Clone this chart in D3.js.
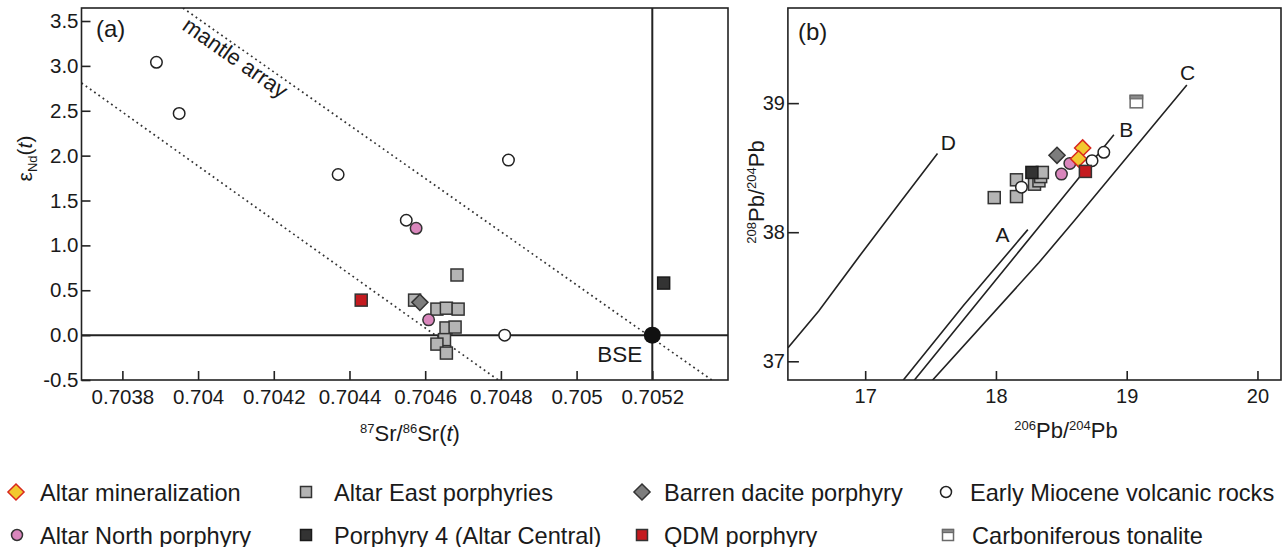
<!DOCTYPE html>
<html>
<head>
<meta charset="utf-8">
<script src="https://cdn.jsdelivr.net/npm/d3@7/dist/d3.min.js"></script>
<style>
  html, body { margin: 0; padding: 0; background: #fff; }
  svg { display: block; }
</style>
</head>
<body>
<svg id="chart" width="1287" height="547"></svg>
<script>
// ---------- Panel (a): 87Sr/86Sr(t) vs εNd(t) ----------
const srTicks = [0.7038, 0.7040, 0.7042, 0.7044, 0.7046, 0.7048, 0.7050, 0.7052];
const srTickLabels = ["0.7038", "0.704", "0.7042", "0.7044", "0.7046", "0.7048", "0.705", "0.7052"];
const ndTicks = [-0.5, 0, 0.5, 1, 1.5, 2, 2.5, 3, 3.5];
const ndTickLabels = ["-0.5", "0.0", "0.5", "1.0", "1.5", "2.0", "2.5", "3.0", "3.5"];

const srAltarEast = [0.704684, 0.704572, 0.704631, 0.704656, 0.704687, 0.704655, 0.704679, 0.704651, 0.704631, 0.704656];
const ndAltarEast = [0.67, 0.39, 0.29, 0.30, 0.29, 0.08, 0.09, -0.05, -0.10, -0.20];
const srBarren = [0.704586];
const ndBarren = [0.365];
const srAltarNorth = [0.704576, 0.704609];
const ndAltarNorth = [1.19, 0.17];
const srMiocene = [0.70389, 0.70395, 0.70437, 0.70482, 0.70455, 0.70481];
const ndMiocene = [3.04, 2.47, 1.79, 1.95, 1.28, 0.00];
const srPorphyry4 = [0.70523];
const ndPorphyry4 = [0.58];
const srQDM = [0.704431];
const ndQDM = [0.39];

// bulk silicate earth reference
const bseSr = 0.7052;
const bseNd = 0.0;
// mantle array boundaries (end points)
const mantleUpper = [[0.70396, 3.645], [0.705357, -0.5]];
const mantleLower = [[0.703692, 2.81], [0.704793, -0.5]];

// ---------- Panel (b): 206Pb/204Pb vs 208Pb/204Pb ----------
const pb206Ticks = [17, 18, 19, 20];
const pb208Ticks = [37, 38, 39];

const pb206AltarEast = [17.987, 18.157, 18.157, 18.295, 18.329, 18.342, 18.355];
const pb208AltarEast = [38.268, 38.276, 38.406, 38.372, 38.398, 38.431, 38.463];
const pb206Porphyry4 = [18.275];
const pb208Porphyry4 = [38.463];
const pb206Barren = [18.467];
const pb208Barren = [38.596];
const pb206AltarNorth = [18.501, 18.565];
const pb208AltarNorth = [38.450, 38.533];
const pb206Mineral = [18.663, 18.632];
const pb208Mineral = [38.653, 38.569];
const pb206Miocene = [18.195, 18.735, 18.825];
const pb208Miocene = [38.349, 38.554, 38.619];
const pb206QDM = [18.684];
const pb208QDM = [38.471];
const pb206Tonalite = [19.074];
const pb208Tonalite = [39.012];

// Pb reservoir growth curves
const curveA = [[17.288, 36.85], [17.75, 37.43], [18.244, 38.02]];
const curveB = [[17.373, 36.85], [18.503, 38.258], [18.902, 38.755]];
const curveC = [[17.512, 36.85], [18.329, 37.765], [18.599, 38.088], [19.46, 39.14]];
const curveD = [[16.41, 37.105], [16.645, 37.39], [16.967, 37.83], [17.274, 38.24], [17.553, 38.61]];

// ---------- styles ----------
const FONT = "'Liberation Sans', Arial, Helvetica, sans-serif";
const INK = "#222";
const STYLE = {
  mineral:   { fill: "#f2c82e", stroke: "#d8281e" },
  altarEast: { fill: "#b4b4b4", stroke: "#333" },
  barren:    { fill: "#7d7d7d", stroke: "#333" },
  miocene:   { fill: "#ffffff", stroke: "#222" },
  north:     { fill: "#d986bc", stroke: "#333" },
  p4:        { fill: "#333333", stroke: "#1a1a1a" },
  qdm:       { fill: "#c41a1f", stroke: "#333" },
  tonalite:  { fill: "#ffffff", stroke: "#6a6a6a", band: "#8a8a8a" }
};

const svg = d3.select("#chart");
svg.append("rect").attr("width", 1287).attr("height", 547).attr("fill", "#fff");

// ---------- marker helpers ----------
function drawMarker(g, kind, x, y, s) {
  const st = STYLE[kind];
  if (kind === "miocene" || kind === "north") {
    g.append("circle").attr("cx", x).attr("cy", y).attr("r", s / 2)
      .attr("fill", st.fill).attr("stroke", st.stroke).attr("stroke-width", 1.5);
  } else if (kind === "mineral" || kind === "barren") {
    const h = s * 0.62;
    g.append("path")
      .attr("d", `M${x},${y - h}L${x + h},${y}L${x},${y + h}L${x - h},${y}Z`)
      .attr("fill", st.fill).attr("stroke", st.stroke).attr("stroke-width", 1.5);
  } else if (kind === "tonalite") {
    g.append("rect").attr("x", x - s / 2).attr("y", y - s / 2).attr("width", s).attr("height", s)
      .attr("fill", st.fill).attr("stroke", st.stroke).attr("stroke-width", 1.5);
    g.append("rect").attr("x", x - s / 2).attr("y", y - s / 2).attr("width", s).attr("height", s * 0.28)
      .attr("fill", st.band).attr("stroke", st.stroke).attr("stroke-width", 1.2);
  } else {
    g.append("rect").attr("x", x - s / 2).attr("y", y - s / 2).attr("width", s).attr("height", s)
      .attr("fill", st.fill).attr("stroke", st.stroke).attr("stroke-width", 1.5);
  }
}

function plotSeries(g, xs, ys, sx, sy, kind, size) {
  xs.forEach((v, i) => drawMarker(g, kind, sx(v), sy(ys[i]), size));
}

function styleAxis(g, size) {
  g.select(".domain").remove();
  g.attr("font-family", FONT).attr("font-size", size);
  g.selectAll(".tick line").attr("stroke", INK).attr("stroke-width", 1.6);
  g.selectAll(".tick text").attr("fill", "#1a1a1a");
}

// ======================= Panel (a) =======================
const A = { left: 81.5, right: 728, top: 8, bottom: 380 };
const xA = d3.scaleLinear().domain([0.703692, 0.7054]).range([A.left, A.right]);
const yA = d3.scaleLinear().domain([-0.5, 3.645]).range([A.bottom, A.top]);

const gA = svg.append("g");
gA.append("clipPath").attr("id", "clipA").append("rect")
  .attr("x", A.left).attr("y", A.top).attr("width", A.right - A.left).attr("height", A.bottom - A.top);

// mantle array (dotted)
const lineA = d3.line().x(d => xA(d[0])).y(d => yA(d[1]));
[mantleUpper, mantleLower].forEach(seg => {
  gA.append("path").attr("d", lineA(seg)).attr("clip-path", "url(#clipA)")
    .attr("fill", "none").attr("stroke", "#333").attr("stroke-width", 1.7)
    .attr("stroke-dasharray", "1.8,3.4");
});

// BSE cross-hairs
gA.append("line").attr("x1", A.left).attr("x2", A.right).attr("y1", yA(bseNd)).attr("y2", yA(bseNd))
  .attr("stroke", INK).attr("stroke-width", 2);
gA.append("line").attr("x1", xA(bseSr)).attr("x2", xA(bseSr)).attr("y1", A.top).attr("y2", A.bottom)
  .attr("stroke", INK).attr("stroke-width", 2);

// axes (ticks pointing inward)
const axAx = gA.append("g").attr("transform", `translate(0,${A.bottom})`)
  .call(d3.axisBottom(xA).tickValues(srTicks).tickFormat((d, i) => srTickLabels[i]).tickSize(-9).tickPadding(9));
styleAxis(axAx, 20.5);
const axAy = gA.append("g").attr("transform", `translate(${A.left},0)`)
  .call(d3.axisLeft(yA).tickValues(ndTicks).tickFormat((d, i) => ndTickLabels[i]).tickSize(-9).tickPadding(3));
styleAxis(axAy, 20.5);

// data
const mA = gA.append("g");
plotSeries(mA, srAltarEast, ndAltarEast, xA, yA, "altarEast", 12);
plotSeries(mA, srBarren, ndBarren, xA, yA, "barren", 13);
plotSeries(mA, srAltarNorth, ndAltarNorth, xA, yA, "north", 11.5);
plotSeries(mA, srMiocene, ndMiocene, xA, yA, "miocene", 11.5);
plotSeries(mA, srPorphyry4, ndPorphyry4, xA, yA, "p4", 12);
plotSeries(mA, srQDM, ndQDM, xA, yA, "qdm", 12);

// BSE point and label
gA.append("circle").attr("cx", xA(bseSr)).attr("cy", yA(bseNd)).attr("r", 8.5).attr("fill", "#111");
gA.append("text").attr("x", xA(bseSr) - 10).attr("y", yA(bseNd) + 27)
  .attr("text-anchor", "end").attr("font-family", FONT).attr("font-size", 22.5).attr("fill", "#1a1a1a")
  .text("BSE");

// mantle array label, rotated along the upper boundary
const angA = Math.atan2(yA(mantleUpper[1][1]) - yA(mantleUpper[0][1]), xA(mantleUpper[1][0]) - xA(mantleUpper[0][0])) * 180 / Math.PI;
gA.append("text").attr("transform", `translate(231,64) rotate(${angA})`)
  .attr("text-anchor", "middle").attr("font-family", FONT).attr("font-size", 22).attr("fill", "#1a1a1a")
  .text("mantle array");

// frame
gA.append("rect").attr("x", A.left).attr("y", A.top).attr("width", A.right - A.left).attr("height", A.bottom - A.top)
  .attr("fill", "none").attr("stroke", INK).attr("stroke-width", 1.6);

gA.append("text").attr("x", 96).attr("y", 37).attr("font-family", FONT).attr("font-size", 24).attr("fill", "#1a1a1a").text("(a)");

// axis titles
const xtA = gA.append("text").attr("x", 410).attr("y", 441).attr("text-anchor", "middle")
  .attr("font-family", FONT).attr("font-size", 22).attr("fill", "#1a1a1a");
xtA.append("tspan").attr("font-size", 13).attr("dy", -8).text("87");
xtA.append("tspan").attr("dy", 8).text("Sr/");
xtA.append("tspan").attr("font-size", 13).attr("dy", -8).text("86");
xtA.append("tspan").attr("dy", 8).text("Sr(");
xtA.append("tspan").attr("font-style", "italic").text("t");
xtA.append("tspan").text(")");

const ytA = gA.append("text").attr("transform", "translate(32,158.5) rotate(-90)").attr("text-anchor", "middle")
  .attr("font-family", FONT).attr("font-size", 21).attr("fill", "#1a1a1a");
ytA.append("tspan").text("ε");
ytA.append("tspan").attr("font-size", 13).attr("dy", 5).text("Nd");
ytA.append("tspan").attr("dy", -5).text("(");
ytA.append("tspan").attr("font-style", "italic").text("t");
ytA.append("tspan").text(")");

// ======================= Panel (b) =======================
const B = { left: 787.9, right: 1281, top: 8, bottom: 380 };
const xB = d3.scaleLinear().domain([16.409, 20.18]).range([B.left, B.right]);
const yB = d3.scaleLinear().domain([36.855, 39.737]).range([B.bottom, B.top]);

const gB = svg.append("g");
gB.append("clipPath").attr("id", "clipB").append("rect")
  .attr("x", B.left).attr("y", B.top).attr("width", B.right - B.left).attr("height", B.bottom - B.top);

const lineB = d3.line().x(d => xB(d[0])).y(d => yB(d[1]));
[curveA, curveB, curveC, curveD].forEach(c => {
  gB.append("path").attr("d", lineB(c)).attr("clip-path", "url(#clipB)")
    .attr("fill", "none").attr("stroke", INK).attr("stroke-width", 1.6);
});

const axBx = gB.append("g").attr("transform", `translate(0,${B.bottom})`)
  .call(d3.axisBottom(xB).tickValues(pb206Ticks).tickFormat(d3.format("d")).tickSize(-9).tickPadding(9));
styleAxis(axBx, 20);
const axBy = gB.append("g").attr("transform", `translate(${B.left},0)`)
  .call(d3.axisLeft(yB).tickValues(pb208Ticks).tickFormat(d3.format("d")).tickSize(-11).tickPadding(3));
styleAxis(axBy, 20);

// curve labels
const curveLabels = [["A", 18.051, 37.926], ["B", 18.996, 38.736], ["C", 19.465, 39.18], ["D", 17.635, 38.634]];
curveLabels.forEach(([t, x, y]) => {
  gB.append("text").attr("x", xB(x)).attr("y", yB(y)).attr("text-anchor", "middle")
    .attr("font-family", FONT).attr("font-size", 21).attr("fill", "#1a1a1a").text(t);
});

const mB = gB.append("g");
plotSeries(mB, pb206AltarEast, pb208AltarEast, xB, yB, "altarEast", 12);
plotSeries(mB, pb206Porphyry4, pb208Porphyry4, xB, yB, "p4", 12);
plotSeries(mB, pb206Barren, pb208Barren, xB, yB, "barren", 13);
plotSeries(mB, pb206AltarNorth, pb208AltarNorth, xB, yB, "north", 11.5);
plotSeries(mB, pb206Mineral, pb208Mineral, xB, yB, "mineral", 13);
plotSeries(mB, pb206Miocene, pb208Miocene, xB, yB, "miocene", 11.5);
plotSeries(mB, pb206QDM, pb208QDM, xB, yB, "qdm", 12);
plotSeries(mB, pb206Tonalite, pb208Tonalite, xB, yB, "tonalite", 12.5);

gB.append("rect").attr("x", B.left).attr("y", B.top).attr("width", B.right - B.left).attr("height", B.bottom - B.top)
  .attr("fill", "none").attr("stroke", INK).attr("stroke-width", 1.6);

gB.append("text").attr("x", 798).attr("y", 40).attr("font-family", FONT).attr("font-size", 24).attr("fill", "#1a1a1a").text("(b)");

const xtB = gB.append("text").attr("x", 1066).attr("y", 438).attr("text-anchor", "middle")
  .attr("font-family", FONT).attr("font-size", 22).attr("fill", "#1a1a1a");
xtB.append("tspan").attr("font-size", 13).attr("dy", -8).text("206");
xtB.append("tspan").attr("dy", 8).text("Pb/");
xtB.append("tspan").attr("font-size", 13).attr("dy", -8).text("204");
xtB.append("tspan").attr("dy", 8).text("Pb");

const ytB = gB.append("text").attr("transform", "translate(764,192) rotate(-90)").attr("text-anchor", "middle")
  .attr("font-family", FONT).attr("font-size", 22).attr("fill", "#1a1a1a");
ytB.append("tspan").attr("font-size", 13).attr("dy", -8).text("208");
ytB.append("tspan").attr("dy", 8).text("Pb/");
ytB.append("tspan").attr("font-size", 13).attr("dy", -8).text("204");
ytB.append("tspan").attr("dy", 8).text("Pb");

// ======================= Legend =======================
const legendItems = [
  { kind: "mineral",   label: "Altar mineralization",         sx: 16,  tx: 40,  row: 0, size: 13 },
  { kind: "altarEast", label: "Altar East porphyries",        sx: 306, tx: 334, row: 0, size: 11 },
  { kind: "barren",    label: "Barren dacite porphyry",       sx: 642, tx: 664, row: 0, size: 13 },
  { kind: "miocene",   label: "Early Miocene volcanic rocks", sx: 946, tx: 970, row: 0, size: 11 },
  { kind: "north",     label: "Altar North porphyry",         sx: 17,  tx: 40,  row: 1, size: 11 },
  { kind: "p4",        label: "Porphyry 4 (Altar Central)",   sx: 306, tx: 334, row: 1, size: 11 },
  { kind: "qdm",       label: "QDM porphyry",                 sx: 642, tx: 664, row: 1, size: 11 },
  { kind: "tonalite",  label: "Carboniferous tonalite",       sx: 948, tx: 972, row: 1, size: 11 }
];
const rowY = [492, 535];
const gL = svg.append("g");
legendItems.forEach(it => {
  drawMarker(gL, it.kind, it.sx, rowY[it.row], it.size);
  gL.append("text").attr("x", it.tx).attr("y", rowY[it.row] + 8.5)
    .attr("font-family", FONT).attr("font-size", 23.6).attr("fill", "#1a1a1a").text(it.label);
});
</script>
</body>
</html>
